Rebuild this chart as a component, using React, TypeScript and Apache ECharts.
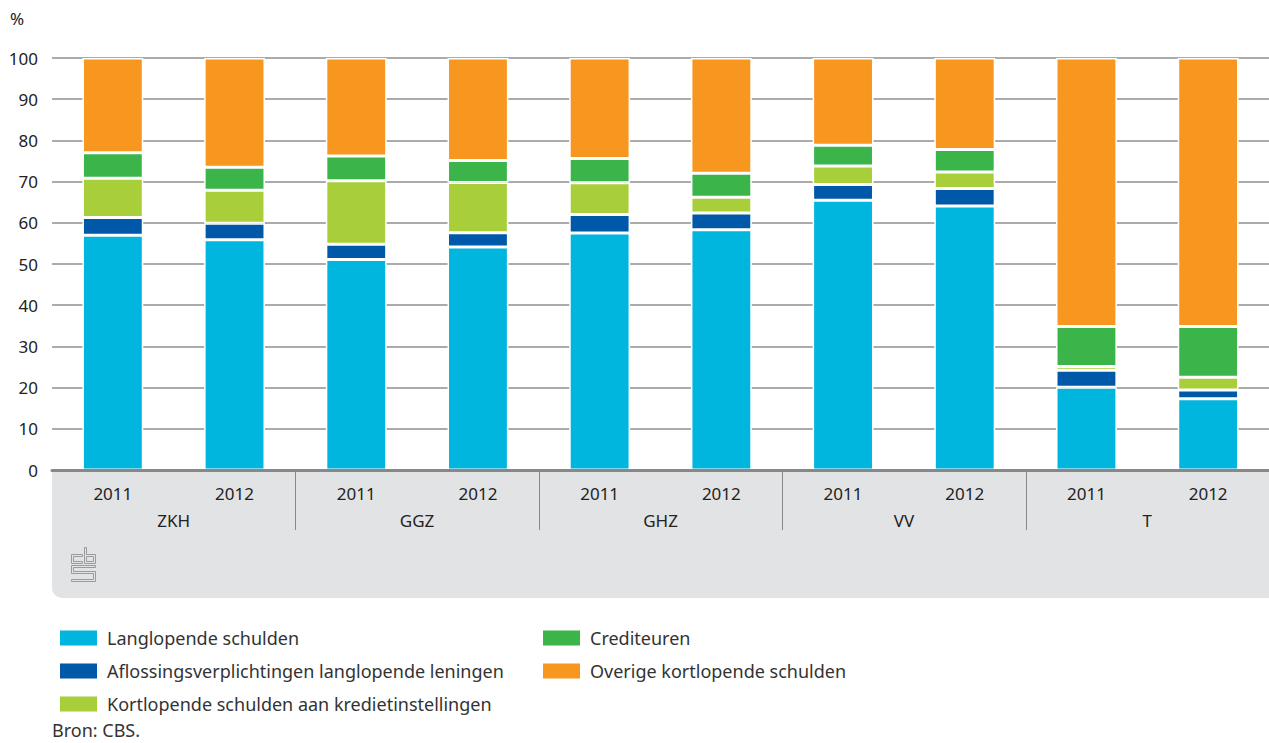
import React, { useEffect, useRef } from "react";
import * as echarts from "echarts";

const groups = ["ZKH", "GGZ", "GHZ", "VV", "T"];
const years = ["2011", "2012"];
const categories = groups.flatMap((g) => years.map((y) => `${g} ${y}`));
const yTicks = { min: 0, max: 100, interval: 10 };

const langlopende = [57.0, 55.9, 51.1, 54.1, 57.5, 58.3, 65.5, 64.1, 20.1, 17.3];
const aflossing = [4.3, 4.0, 3.7, 3.5, 4.5, 4.1, 3.8, 4.2, 4.1, 2.1];
const kortKrediet = [9.5, 8.0, 15.4, 12.2, 7.7, 3.8, 4.5, 4.0, 0.9, 3.1];
const crediteuren = [6.2, 5.6, 6.0, 5.3, 5.9, 5.8, 5.0, 5.5, 9.7, 12.3];
const overige = [23.0, 26.5, 23.8, 24.9, 24.4, 28.0, 21.2, 22.2, 65.2, 65.2];

const seriesNames = [
  "Langlopende schulden",
  "Aflossingsverplichtingen langlopende leningen",
  "Kortlopende schulden aan kredietinstellingen",
  "Crediteuren",
  "Overige kortlopende schulden",
];
const seriesData = [langlopende, aflossing, kortKrediet, crediteuren, overige];
const colors = ["#00b5de", "#0058a8", "#a8cf3a", "#3bb54a", "#f7971f"];

const FONT = "Noto Sans";

export default function App() {
  const ref = useRef<HTMLDivElement>(null);
  useEffect(() => {
    if (!ref.current) return;
    const chart = echarts.init(ref.current, null, { renderer: "svg" });
    const legendBase = {
      orient: "vertical",
      top: 624,
      itemWidth: 37,
      itemHeight: 15,
      itemGap: 15,
      icon: "rect",
      itemStyle: { borderWidth: 0 },
      textStyle: { fontFamily: FONT, fontSize: 18, color: "#333", padding: [0, 0, 0, 5] },
    };
    const option: any = {
      animation: false,
      color: colors,
      textStyle: { fontFamily: FONT },
      grid: { left: 52, right: 0, top: 58, bottom: 273, containLabel: false },
      legend: [
        { ...legendBase, data: seriesNames.slice(0, 3), left: 55 },
        { ...legendBase, data: seriesNames.slice(3), left: 538 },
      ],
      xAxis: [
        {
          type: "category",
          data: categories,
          axisLine: { show: true, lineStyle: { color: "#888", width: 3 } },
          axisTick: { show: false },
          axisLabel: {
            margin: 15,
            fontSize: 17,
            color: "#222",
            fontFamily: FONT,
            formatter: (v: string) => v.split(" ")[1],
          },
          z: 5,
        },
        {
          type: "category",
          data: groups,
          position: "bottom",
          offset: 27,
          axisLine: { show: false },
          axisTick: { show: false },
          axisLabel: { margin: 15, fontSize: 17, color: "#222", fontFamily: FONT },
        },
      ],
      yAxis: {
        type: "value",
        min: yTicks.min,
        max: yTicks.max,
        interval: yTicks.interval,
        name: "%",
        nameLocation: "end",
        nameGap: 31,
        nameTextStyle: { fontSize: 17, color: "#222", align: "left", padding: [0, 0, 0, -42], fontFamily: FONT },
        axisLine: { show: false },
        axisTick: { show: false },
        axisLabel: { fontSize: 17, color: "#222", margin: 14, fontFamily: FONT },
        splitLine: { lineStyle: { color: "#8f8f8f", width: 1.5 } },
      },
      series: seriesNames.map((name, i) => ({
        name,
        type: "bar",
        stack: "total",
        barWidth: "50%",
        data: seriesData[i],
        itemStyle: { color: colors[i], borderColor: "#fff", borderWidth: 1.5 },
      })),
    };
    chart.setOption(option);

    const px = (i: number) => chart.convertToPixel({ xAxisIndex: 0 }, i) as number;
    const seps: any[] = [];
    for (let g = 1; g < groups.length; g++) {
      const x = Math.round((px(g * years.length - 1) + px(g * years.length)) / 2) + 0.5;
      seps.push({
        type: "line",
        shape: { x1: x, y1: 472, x2: x, y2: 530 },
        style: { stroke: "#888", lineWidth: 1 },
        z: 2,
      });
    }
    const logoStyle = { fill: "none", stroke: "#9a9a9a", lineWidth: 1 };
    const logo = {
      type: "group",
      x: 71.5,
      y: 547.5,
      children: [
        { type: "polygon", shape: { points: [[0, 7], [11, 7], [11, 9], [2, 9], [2, 14], [11, 14], [11, 16], [0, 16]] }, style: logoStyle },
        { type: "polygon", shape: { points: [[13, 0], [15, 0], [15, 7], [24, 7], [24, 16], [13, 16]] }, style: logoStyle },
        { type: "rect", shape: { x: 15, y: 9, width: 7, height: 5 }, style: logoStyle },
        {
          type: "polygon",
          shape: { points: [[0, 18], [24, 18], [24, 20], [2, 20], [2, 24], [24, 24], [24, 34], [0, 34], [0, 32], [22, 32], [22, 26], [0, 26]] },
          style: logoStyle,
        },
      ],
    };
    chart.setOption({
      graphic: [
        {
          type: "rect",
          shape: { x: 52, y: 471, width: 1217, height: 127, r: [0, 0, 0, 10] },
          style: { fill: "#e2e3e5" },
          z: -10,
          silent: true,
        },
        ...seps,
        logo,
        {
          type: "text",
          left: 52,
          top: 721,
          style: { text: "Bron: CBS.", fontSize: 18, fill: "#333", fontFamily: FONT },
        },
      ],
    });
    return () => chart.dispose();
  }, []);
  return (
    <div
      ref={ref}
      style={{ position: "fixed", left: 0, top: 0, width: 1269, height: 743, background: "#fff" }}
    />
  );
}
